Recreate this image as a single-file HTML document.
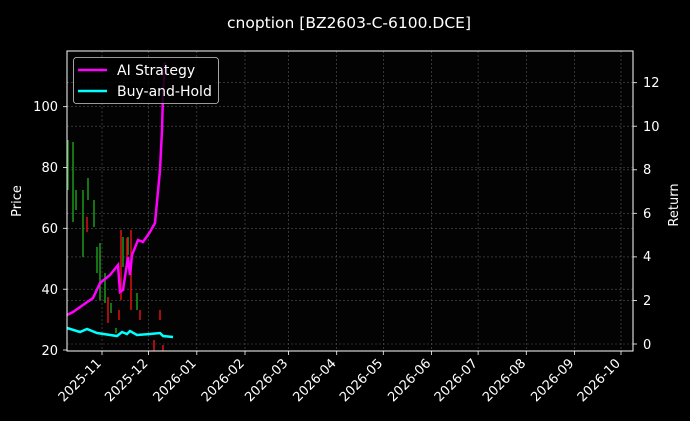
<!DOCTYPE html>
<html><head><meta charset="utf-8"><style>
html,body{margin:0;padding:0;background:#000;}
svg{display:block;font-family:"DejaVu Sans","Liberation Sans",sans-serif;}
</style></head><body>
<svg width="690" height="421" viewBox="0 0 690 421" xmlns="http://www.w3.org/2000/svg">
<rect width="690" height="421" fill="#000"/>
<rect x="67" y="51" width="566" height="300" fill="#030303"/>
<text x="349" y="28" fill="#fff" font-size="15.5" text-anchor="middle">cnoption [BZ2603-C-6100.DCE]</text>
<g stroke="#555" stroke-width="0.6" stroke-dasharray="2,2">
<line x1="67" x2="633" y1="106.7" y2="106.7"/><line x1="67" x2="633" y1="167.5" y2="167.5"/><line x1="67" x2="633" y1="228.3" y2="228.3"/><line x1="67" x2="633" y1="289.2" y2="289.2"/>
<line x1="67" x2="633" y1="82.7" y2="82.7"/><line x1="67" x2="633" y1="126.2" y2="126.2"/><line x1="67" x2="633" y1="169.8" y2="169.8"/><line x1="67" x2="633" y1="213.3" y2="213.3"/><line x1="67" x2="633" y1="256.9" y2="256.9"/><line x1="67" x2="633" y1="300.4" y2="300.4"/><line x1="67" x2="633" y1="344" y2="344"/>
<line x1="102" x2="102" y1="51" y2="351"/><line x1="148.6" x2="148.6" y1="51" y2="351"/><line x1="196.8" x2="196.8" y1="51" y2="351"/><line x1="245" x2="245" y1="51" y2="351"/><line x1="288.5" x2="288.5" y1="51" y2="351"/><line x1="336.7" x2="336.7" y1="51" y2="351"/><line x1="383.3" x2="383.3" y1="51" y2="351"/><line x1="431.5" x2="431.5" y1="51" y2="351"/><line x1="478.1" x2="478.1" y1="51" y2="351"/><line x1="526.3" x2="526.3" y1="51" y2="351"/><line x1="574.5" x2="574.5" y1="51" y2="351"/><line x1="621" x2="621" y1="51" y2="351"/>
</g>
<g stroke-width="1.5">
<g stroke="#1a9a1a">
<line x1="68" x2="68" y1="140" y2="190"/><line x1="73" x2="73" y1="142" y2="222"/><line x1="76" x2="76" y1="190" y2="210"/><line x1="83" x2="83" y1="190" y2="257"/><line x1="88" x2="88" y1="178" y2="200"/><line x1="94" x2="94" y1="200" y2="227"/><line x1="97" x2="97" y1="247" y2="273"/><line x1="100" x2="100" y1="243" y2="300"/><line x1="105" x2="105" y1="273" y2="303"/><line x1="111" x2="111" y1="303" y2="313"/><line x1="116" x2="116" y1="328" y2="333"/><line x1="123" x2="123" y1="237" y2="267"/><line x1="128" x2="128" y1="237" y2="255"/><line x1="137" x2="137" y1="293" y2="310"/>
</g>
<g stroke="#e01010">
<line x1="87" x2="87" y1="217" y2="232"/><line x1="108" x2="108" y1="297" y2="323"/><line x1="119" x2="119" y1="310" y2="320"/><line x1="121" x2="121" y1="230" y2="300"/><line x1="127" x2="127" y1="238" y2="260"/><line x1="131" x2="131" y1="230" y2="310"/><line x1="140" x2="140" y1="310" y2="320"/><line x1="154" x2="154" y1="340" y2="351"/><line x1="160" x2="160" y1="310" y2="320"/><line x1="163" x2="163" y1="345" y2="351"/>
</g>
</g>
<polyline fill="none" stroke="#ff00ff" stroke-width="2.5" points="67,315 73,312 83,305 93,298 100,283 110,275 118,265 120,292 123,290 128,257 130,275 132,255 138,240 143,242 150,232 155,223 160,170 162,130 163,95 165,62"/>
<polyline fill="none" stroke="#00ffff" stroke-width="2.5" points="67,328 80,332 87,329 97,333 117,336 122,332 127,334 130,331 137,335 150,334 160,333 163,336 173,337"/>
<rect x="67" y="51" width="566" height="300" fill="none" stroke="#fff" stroke-width="1"/>
<g stroke="#fff" stroke-width="0.8">
<line x1="63" x2="67" y1="350" y2="350"/><line x1="63" x2="67" y1="289.2" y2="289.2"/><line x1="63" x2="67" y1="228.3" y2="228.3"/><line x1="63" x2="67" y1="167.5" y2="167.5"/><line x1="63" x2="67" y1="106.7" y2="106.7"/>
<line x1="633" x2="637" y1="82.7" y2="82.7"/><line x1="633" x2="637" y1="126.2" y2="126.2"/><line x1="633" x2="637" y1="169.8" y2="169.8"/><line x1="633" x2="637" y1="213.3" y2="213.3"/><line x1="633" x2="637" y1="256.9" y2="256.9"/><line x1="633" x2="637" y1="300.4" y2="300.4"/><line x1="633" x2="637" y1="344" y2="344"/>
</g>
<g fill="#fff" font-size="13" text-anchor="end">
<text x="58" y="355">20</text><text x="58" y="294">40</text><text x="58" y="233">60</text><text x="58" y="172">80</text><text x="58" y="111">100</text>
</g>
<g fill="#fff" font-size="13">
<text x="643" y="87">12</text><text x="643" y="131">10</text><text x="643" y="174">8</text><text x="643" y="218">6</text><text x="643" y="261">4</text><text x="643" y="305">2</text><text x="643" y="349">0</text>
</g>
<text transform="translate(21,201) rotate(-90)" fill="#fff" font-size="13" text-anchor="middle">Price</text>
<text transform="translate(678,205) rotate(-90)" fill="#fff" font-size="13" text-anchor="middle">Return</text>
<g stroke="#fff" stroke-width="0.8">
<line x1="102" x2="102" y1="351" y2="355"/><line x1="148.6" x2="148.6" y1="351" y2="355"/><line x1="196.8" x2="196.8" y1="351" y2="355"/><line x1="245" x2="245" y1="351" y2="355"/><line x1="288.5" x2="288.5" y1="351" y2="355"/><line x1="336.7" x2="336.7" y1="351" y2="355"/><line x1="383.3" x2="383.3" y1="351" y2="355"/><line x1="431.5" x2="431.5" y1="351" y2="355"/><line x1="478.1" x2="478.1" y1="351" y2="355"/><line x1="526.3" x2="526.3" y1="351" y2="355"/><line x1="574.5" x2="574.5" y1="351" y2="355"/><line x1="621" x2="621" y1="351" y2="355"/>
</g>
<g fill="#fff" font-size="13" text-anchor="end">
<text transform="translate(102,364) rotate(-45)">2025-11</text>
<text transform="translate(148.6,364) rotate(-45)">2025-12</text>
<text transform="translate(196.8,364) rotate(-45)">2026-01</text>
<text transform="translate(245,364) rotate(-45)">2026-02</text>
<text transform="translate(288.5,364) rotate(-45)">2026-03</text>
<text transform="translate(336.7,364) rotate(-45)">2026-04</text>
<text transform="translate(383.3,364) rotate(-45)">2026-05</text>
<text transform="translate(431.5,364) rotate(-45)">2026-06</text>
<text transform="translate(478.1,364) rotate(-45)">2026-07</text>
<text transform="translate(526.3,364) rotate(-45)">2026-08</text>
<text transform="translate(574.5,364) rotate(-45)">2026-09</text>
<text transform="translate(621,364) rotate(-45)">2026-10</text>
</g>
<rect x="73.5" y="57.5" width="145" height="46" rx="3" fill="#000" fill-opacity="0.85" stroke="#ccc" stroke-width="0.8"/>
<line x1="78" x2="107" y1="70" y2="70" stroke="#ff00ff" stroke-width="2.5"/>
<line x1="78" x2="107" y1="91" y2="91" stroke="#00ffff" stroke-width="2.5"/>
<text x="117" y="75" fill="#fff" font-size="14">AI Strategy</text>
<text x="117" y="96" fill="#fff" font-size="14">Buy-and-Hold</text>
</svg>
</body></html>
